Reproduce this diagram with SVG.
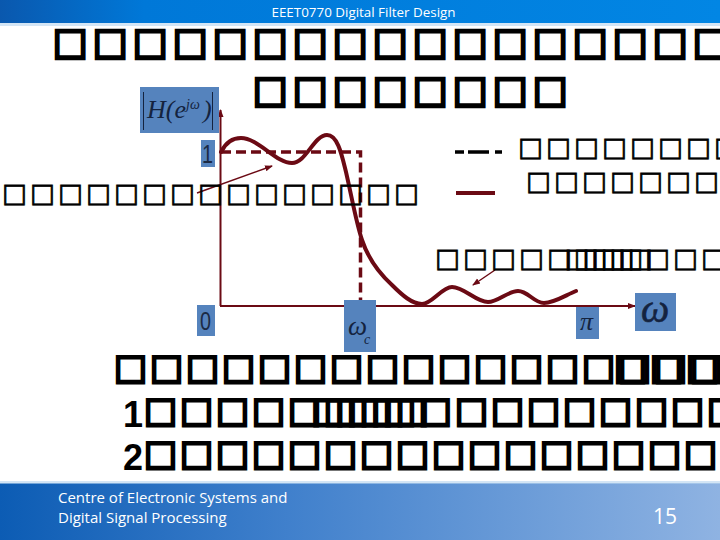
<svg xmlns="http://www.w3.org/2000/svg" width="720" height="540" viewBox="0 0 720 540">
<style>
.t{font-family:"DejaVu Sans",sans-serif;fill:#000;stroke:#000;stroke-width:2.800;font-size:37px;opacity:.999}
.b{font-family:"DejaVu Sans",sans-serif;fill:#000;stroke:#000;stroke-width:2.600;font-size:35px;opacity:.999}
.r{font-family:"DejaVu Sans",sans-serif;fill:#000;stroke:#000;stroke-width:.7;font-size:26.500px;opacity:.999}
.d{font-family:"Liberation Sans",Arial,sans-serif;font-weight:700;fill:#000;font-size:36px}
.hd{font-family:"Open Sans",sans-serif;fill:#fff}
.m{font-family:"Liberation Serif",serif;font-style:italic;fill:#14233f}
.n{font-family:"Liberation Sans",sans-serif;fill:#1b2a44}
.box{fill:#5583bd}
.ln{stroke:#6b0a14;fill:none}
</style>
<defs>
<linearGradient id="g1" x1="0" x2="1" y1="0" y2="0"><stop offset="0" stop-color="#0a58ae"/><stop offset=".2" stop-color="#0078d8"/><stop offset="1" stop-color="#0286e4"/></linearGradient>
<linearGradient id="g2" x1="0" x2="1" y1="0" y2="0"><stop offset="0" stop-color="#0c5cb4"/><stop offset=".4" stop-color="#4080cc"/><stop offset="1" stop-color="#8fb3e2"/></linearGradient>
<marker id="a" markerWidth="8" markerHeight="8" refX="7" refY="3" orient="auto" markerUnits="userSpaceOnUse" viewBox="0 0 8 6"><path d="M0 0L8 3L0 6z" fill="#6b0a14"/></marker>
</defs>
<g id="header"><rect width="720" height="23" fill="url(#g1)"/><rect y="23" width="720" height="3" fill="#b5d4ee" opacity=".6"/>
<text class="hd" x="363.500" y="17" font-size="13.400" text-anchor="middle">EEET0770 Digital Filter Design</text></g>
<g id="footer"><rect y="483" width="720" height="57" fill="url(#g2)"/><rect y="481" width="720" height="3" fill="#b5d4ee" opacity=".6"/>
<text class="hd" x="58" y="503" font-size="15">Centre of Electronic Systems and</text>
<text class="hd" x="58" y="523" font-size="15">Digital Signal Processing</text>
<text class="hd" x="653" y="524" font-size="21">15</text></g>
<g id="title"><text class="t" y="53.500" x="53 93 133 173 213 253 293 333 373 413 453 493 533 573 613 653 693">□□□□□□□□□□□□□□□□□</text>
<text class="t" y="101.500" x="253 293 333 373 413 453 493 533">□□□□□□□□</text></g>
<g id="connectors">
<path class="ln" stroke-width="2" d="M220.500 306V110" marker-end="url(#a)"/>
<path class="ln" stroke-width="2" d="M220 306H635" marker-end="url(#a)"/>
<path class="ln" stroke-width="3.500" stroke-dasharray="10 5" d="M221 152H360.500V300"/>
<path class="ln" stroke-width="4" stroke-linecap="round" stroke="#7a0c14" d="M221 152C226 142 233 138 241 138C258 138 276 163 292 163C306 163 314 135 327 135C338 135 342 156 346 172C352 198 356 222 362 240C368 258 380 274 392 285C402 295 412 304 422 304C432 304 442 287 452 287C464 287 476 302 488 302C498 302 508 291 518 291C528 291 534 303 544 303C554 303 566 295 576 291"/>
<path class="ln" stroke-width="1.500" d="M197 193L272 166" marker-end="url(#a)"/>
<path class="ln" stroke-width="1.500" d="M495 270L473 285" marker-end="url(#a)"/>
<path d="M455 152h9M468 152h21M495 152h7" stroke="#000" stroke-width="3.500"/>
<path d="M456 193h39" class="ln" stroke-width="4"/>
</g>
<g id="label-h"><rect class="box" x="140" y="87" width="79" height="46"/><text class="m" x="147" y="118" font-size="26">H(e</text><text class="m" x="186" y="109" font-size="14">jω</text><text class="m" x="203" y="118" font-size="26" font-style="normal">)</text><path d="M143.500 92V130M212.500 92V130" stroke="#14233f" fill="none"/></g>
<g id="label-1"><rect class="box" x="201" y="140" width="14" height="27"/><text class="n" x="202" y="163" font-size="25" textLength="11" lengthAdjust="spacingAndGlyphs">1</text></g>
<g id="label-0"><rect class="box" x="197" y="305" width="18" height="31"/><text class="n" x="200" y="330" font-size="25" textLength="11" lengthAdjust="spacingAndGlyphs">0</text></g>
<g id="label-wc"><rect class="box" x="344" y="300" width="32" height="52"/><text class="m" x="348" y="335" font-size="27">ω</text><text class="m" x="364" y="344" font-size="14">c</text></g>
<g id="label-pi"><rect class="box" x="576" y="307" width="23" height="32"/><text class="m" x="580" y="330" font-size="26">π</text></g>
<g id="label-w"><rect class="box" x="635" y="293" width="41" height="38"/><text class="m" x="641" y="322" font-size="40" stroke="#14233f" stroke-width=".6">ω</text></g>
<g id="passband-label"><text class="r" y="201.500" x="2 30 58 86 114 142 170 198 226 254 282 310 338 366 394">□□□□□□□□□□□□□□□</text></g>
<g id="legend"><text class="r" y="155.500" x="518 546 574 602 630 658 686 714">□□□□□□□□</text>
<text class="r" y="189.500" x="526 554 582 610 638 666 694">□□□□□□□</text></g>
<g id="stopband-label"><text class="r" y="266.500" x="435 463 491 519 547 564.500 573.800 582.500 591.300 600.800 609.500 618.300 627.800 645 673 701">□□□□□□□□□□□□□□□□</text></g>
<g id="body"><text class="b" y="379" x="114 150 186 222 258 294 330 366 402 438 474 510 546 582 614 618 650 654 686 690">□□□□□□□□□□□□□□□□□□□□</text>
<text class="d" y="427" x="123">1</text><text class="b" y="422" x="144 180 216 252 288 311.300 323.700 335.300 347 359.700 371.300 383 395.700 418.700 455 491 527 563 599 635 671 707">□□□□□□□□□□□□□□□□□□□□□□</text>
<text class="d" y="470" x="123">2</text><text class="b" y="465" x="144 180 216 252 288 324 360 396 432 468 504 540 576 612 648 684">□□□□□□□□□□□□□□□□</text></g>
</svg>
